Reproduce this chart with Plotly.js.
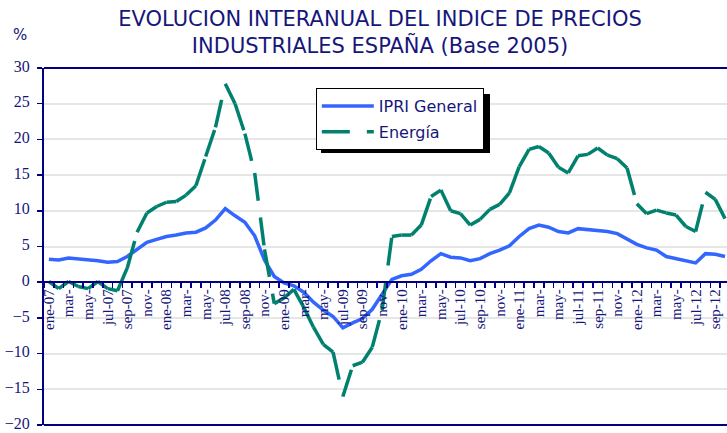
<!DOCTYPE html>
<html>
<head>
<meta charset="utf-8">
<script src="https://cdn.plot.ly/plotly-3.0.1.min.js"></script>
<style>html,body{margin:0;padding:0;background:#fff;}#chart{width:727px;height:433px;}</style>
</head>
<body>
<div id="chart"></div>
<script>
const months = ["ene-07","feb-07","mar-07","abr-07","may-07","jun-07","jul-07","ago-07","sep-07","oct-07","nov-07","dic-07",
"ene-08","feb-08","mar-08","abr-08","may-08","jun-08","jul-08","ago-08","sep-08","oct-08","nov-08","dic-08",
"ene-09","feb-09","mar-09","abr-09","may-09","jun-09","jul-09","ago-09","sep-09","oct-09","nov-09","dic-09",
"ene-10","feb-10","mar-10","abr-10","may-10","jun-10","jul-10","ago-10","sep-10","oct-10","nov-10","dic-10",
"ene-11","feb-11","mar-11","abr-11","may-11","jun-11","jul-11","ago-11","sep-11","oct-11","nov-11","dic-11",
"ene-12","feb-12","mar-12","abr-12","may-12","jun-12","jul-12","ago-12","sep-12","oct-12"];

const tickLabels = ["ene-07","","mar-","","may-","","jul-07","","sep-07","","nov-","",
"ene-08","","mar-","","may-","","jul-08","","sep-08","","nov-","",
"ene-09","","mar-","","may-","","jul-09","","sep-09","","nov-","",
"ene-10","","mar-","","may-","","jul-10","","sep-10","","nov-","",
"ene-11","","mar-","","may-","","jul-11","","sep-11","","nov-","",
"ene-12","","mar-","","may-","","jul-12","","sep-12",""];

const ipriGeneral = [3.2,3.1,3.4,3.3,3.1,3.0,2.8,2.9,3.6,4.6,5.6,6.0,
6.4,6.6,6.9,7.0,7.6,8.7,10.3,9.3,8.4,6.5,3.1,0.8,
-0.1,-0.5,-1.4,-2.8,-3.9,-4.8,-6.4,-5.7,-5.1,-3.8,-1.6,0.4,
0.9,1.1,1.8,3.0,4.0,3.5,3.4,3.0,3.3,4.0,4.5,5.1,
6.4,7.5,8.0,7.7,7.1,6.9,7.5,7.4,7.3,7.1,6.8,6.1,
5.3,4.8,4.5,3.6,3.3,3.0,2.7,4.0,3.9,3.6];

const energia = [0.1,-0.9,0.1,-0.6,-0.9,0.1,-0.9,-1.2,2.0,7.0,9.7,10.6,
11.2,11.3,12.2,13.5,17.6,21.7,27.8,25.0,20.8,15.3,4.6,-3.0,
-2.2,-1.0,-3.5,-6.3,-8.7,-9.8,-16.0,-11.7,-11.2,-9.1,-3.9,6.4,
6.6,6.6,8.0,12.0,12.9,10.0,9.6,8.0,8.8,10.2,10.9,12.5,
16.2,18.6,19.0,18.1,16.1,15.3,17.7,17.9,18.8,17.8,17.3,16.0,
11.0,9.6,10.1,9.7,9.4,7.8,7.1,12.6,11.6,8.9];

const seriesNames = ["IPRI General", "Energía"];

const NAVY = "#16167a";
const BLUE = "#3366FF";
const TEAL = "#00806E";

const traces = [];
traces.push({
  type: "scatter", mode: "lines", name: seriesNames[0],
  x: months, y: ipriGeneral,
  line: {color: BLUE, width: 3.5},
  legendgroup: "a", hoverinfo: "x+y"
});
// Energía: dash pattern restarts on every monthly segment, as in the original
for (let i = 0; i < energia.length - 1; i++) {
  traces.push({
    type: "scatter", mode: "lines", name: seriesNames[1],
    x: [months[i], months[i + 1]], y: [energia[i], energia[i + 1]],
    line: {color: TEAL, width: 3.5, dash: "28px,17px"},
    legendgroup: "b", showlegend: i === 0, hoverinfo: "x+y"
  });
}

const layout = {
  width: 727, height: 433,
  margin: {l: 44, r: 0, t: 68, b: 8},
  paper_bgcolor: "#ffffff", plot_bgcolor: "#ffffff",
  title: {
    text: "EVOLUCION INTERANUAL DEL INDICE DE PRECIOS<br>INDUSTRIALES ESPAÑA (Base 2005)",
    x: 0.492, xanchor: "center", xref: "paper",
    y: 0.94, yanchor: "top", yref: "container",
    font: {family: "DejaVu Sans", size: 21, color: NAVY}
  },
  showlegend: true,
  legend: {
    x: 0.398, y: 0.944, xanchor: "left", yanchor: "top",
    bgcolor: "#ffffff", bordercolor: "#000000", borderwidth: 1,
    font: {family: "DejaVu Sans", size: 16, color: NAVY},
    traceorder: "grouped", tracegroupgap: 2, itemwidth: 52
  },
  xaxis: {
    type: "category", categoryorder: "array", categoryarray: months,
    range: [-0.5, 69.2],
    anchor: "free", position: 0.4,
    showline: true, linecolor: "#000080", linewidth: 2,
    ticks: "outside", ticklen: 5, tickwidth: 1.5, tickcolor: "#000080",
    tickson: "boundaries",
    tickmode: "array", tickvals: months, ticktext: tickLabels,
    tickangle: -90,
    tickfont: {family: "Liberation Serif", size: 15, color: NAVY},
    showgrid: false, zeroline: false, fixedrange: true
  },
  yaxis: {
    range: [-20, 30], tick0: 0, dtick: 5,
    showgrid: true, gridcolor: "#e6e6e6", gridwidth: 2,
    zeroline: false,
    showline: true, linecolor: "#000080", linewidth: 2,
    ticks: "outside", ticklen: 5, tickwidth: 1.5, tickcolor: "#000080",
    ticklabelstandoff: 4, ticklabeloverflow: "allow", ticklabelshift: -2,
    tickfont: {family: "Liberation Serif", size: 16, color: NAVY},
    fixedrange: true
  },
  shapes: [
    {type: "line", xref: "paper", yref: "paper", x0: 0, x1: 1, y0: 1, y1: 1, line: {color: "#000080", width: 2}},
    {type: "line", xref: "paper", yref: "paper", x0: 0, x1: 1, y0: 0, y1: 0, line: {color: "#000080", width: 2}},
    {type: "rect", xref: "paper", yref: "paper", x0: 0.4056, x1: 0.653, y0: 0.762, y1: 0.927,
     fillcolor: "#000000", line: {width: 0}, layer: "above"}
  ],
  annotations: [
    {text: "%", xref: "paper", yref: "paper", x: -0.035, y: 1.092, xanchor: "center", yanchor: "middle",
     showarrow: false, font: {family: "DejaVu Sans", size: 15, color: NAVY}}
  ]
};

Plotly.newPlot("chart", traces, layout, {displayModeBar: false, staticPlot: true});
</script>
</body>
</html>
